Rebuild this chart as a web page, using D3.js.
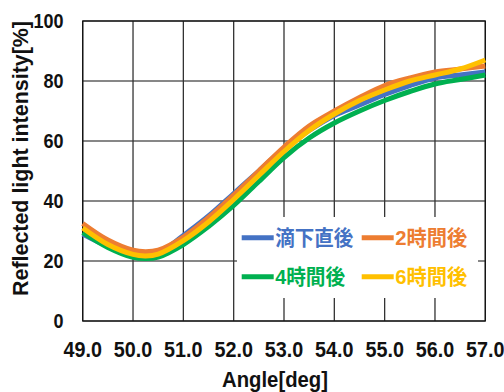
<!DOCTYPE html>
<html><head><meta charset="utf-8">
<script src="https://cdn.jsdelivr.net/npm/d3@7"></script>
<style>body{margin:0;background:#fff}svg{display:block}</style>
</head><body>
<svg id="c" width="504" height="392"></svg>
<script>
const angles = [49,49.5,50,50.25,50.5,51,51.5,52,52.5,53,53.5,54,54.5,55,55.5,56,56.5,57];
const seriesNames = ["滴下直後","2時間後","4時間後","6時間後"];
const seriesColors = ["#4472C4","#ED7D31","#00B050","#FFC000"];
const blue   = [29,25,22.7,22.2,22.6,28.5,35,42.5,50,57.5,63.5,68.5,72,75.5,78.5,81,82,83];
const orange = [32.5,27,23.6,23.1,23.6,28,34.5,42,50,58,65,70,74.5,78.5,81,83,84,85];
const green  = [29.5,24.5,21.2,20.8,21.3,25.5,31.5,38.5,46.5,54.5,61,66,70,73.5,76.5,79,80.5,82];
const gold   = [31,25.5,22.2,21.7,22.3,26.8,33,40.5,48.5,56.5,63.5,69,73.5,77,80,82,84,87];
const seriesValues = [blue, orange, green, gold];
const xTicks = [49,50,51,52,53,54,55,56,57];
const yTicks = [0,20,40,60,80,100];

const svg = d3.select("#c");
const m = {l:82.7, r:485.3, t:21, b:321};
const x = d3.scaleLinear().domain([49,57]).range([m.l, m.r]);
const y = d3.scaleLinear().domain([0,100]).range([m.b, m.t]);
const font = "'Liberation Sans', Arial, sans-serif";

// grid
svg.append("g").selectAll("line").data(yTicks).join("line")
  .attr("x1", m.l).attr("x2", m.r).attr("y1", d=>y(d)).attr("y2", d=>y(d))
  .attr("stroke", "#111").attr("stroke-width", 1.1);
svg.append("g").selectAll("line").data(xTicks).join("line")
  .attr("x1", d=>x(d)).attr("x2", d=>x(d)).attr("y1", m.t).attr("y2", m.b)
  .attr("stroke", "#333").attr("stroke-width", 1.3);
svg.append("rect").attr("x", m.l).attr("y", m.t).attr("width", m.r-m.l).attr("height", m.b-m.t)
  .attr("fill","none").attr("stroke","#111").attr("stroke-width",1.2);

// legend background
svg.append("rect").attr("x",237).attr("y",217).attr("width",241).attr("height",81).attr("fill","#fff");

// lines
const line = d3.line().x((d,i)=>x(angles[i])).y(d=>y(d)).curve(d3.curveCatmullRom);
seriesValues.forEach((vals,k)=>{
  svg.append("path").datum(vals).attr("d", line).attr("fill","none")
    .attr("stroke", seriesColors[k]).attr("stroke-width", 5).attr("stroke-linejoin","round");
});

// x tick labels
svg.append("g").selectAll("text").data(xTicks).join("text")
  .attr("transform", d=>`translate(${x(d)},356.5) scale(0.92,1)`)
  .attr("text-anchor","middle").attr("font-family",font).attr("font-weight","bold")
  .attr("font-size",21.5).attr("fill","#111").text(d=>d.toFixed(1));
// y tick labels
svg.append("g").selectAll("text").data(yTicks).join("text")
  .attr("transform", d=>`translate(63.5,${y(d)+7.2}) scale(0.9,1)`)
  .attr("text-anchor","end").attr("font-family",font).attr("font-weight","bold")
  .attr("font-size",20).attr("fill","#111").text(d=>d);

// axis titles
svg.append("text").attr("x",275).attr("y",387).attr("text-anchor","middle")
  .attr("font-family",font).attr("font-weight","bold").attr("font-size",21.5).attr("fill","#111")
  .attr("textLength",106).attr("lengthAdjust","spacingAndGlyphs").text("Angle[deg]");
svg.append("text").attr("transform","translate(28,158.5) rotate(-90)").attr("text-anchor","middle")
  .attr("font-family",font).attr("font-weight","bold").attr("font-size",22).attr("fill","#111")
  .attr("textLength",275).attr("lengthAdjust","spacingAndGlyphs").text("Reflected light intensity[%]");

// legend
const legPos = [[241.7,237.7,78],[361.7,237.7,72],[241.7,276.7,70],[361.7,276.7,72]];
seriesNames.forEach((name,k)=>{
  const [lx,ly,tw] = legPos[k];
  svg.append("line").attr("x1",lx).attr("x2",lx+32).attr("y1",ly).attr("y2",ly)
    .attr("stroke",seriesColors[k]).attr("stroke-width",5);
  svg.append("text").attr("x",lx+33.5).attr("y",ly+7.5)
    .attr("font-family","'Liberation Sans','Noto Sans CJK JP',sans-serif").attr("font-weight","bold")
    .attr("font-size",21).attr("fill",seriesColors[k])
    .attr("textLength",tw).attr("lengthAdjust","spacingAndGlyphs").text(name);
});
</script>
</body></html>
